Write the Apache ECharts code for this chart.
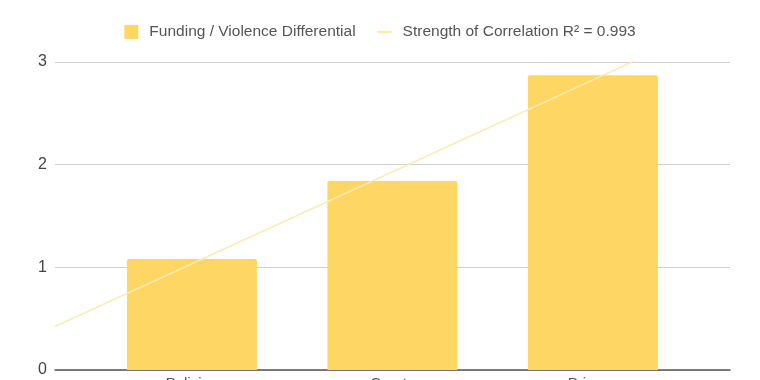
<!DOCTYPE html>
<html>
<head>
<meta charset="utf-8">
<script src="https://cdn.jsdelivr.net/npm/echarts@6/dist/echarts.min.js"></script>
<style>html,body{margin:0;padding:0;background:#fff}#c{width:760px;height:380px}</style>
</head>
<body>
<div id="c"></div>
<script>
const categories = ['Policing', 'Courts', 'Prisons'];
const barValues = [1.08, 1.84, 2.87];
const yTicks = [0, 1, 2, 3];
const barName = 'Funding / Violence Differential';
const trendName = 'Strength of Correlation R\u00b2 = 0.993';

// least-squares trendline through the bar values
const n = barValues.length;
const xs = barValues.map((_, i) => i);
const mx = xs.reduce((a, b) => a + b, 0) / n;
const my = barValues.reduce((a, b) => a + b, 0) / n;
let sxy = 0, sxx = 0;
xs.forEach((x, i) => { sxy += (x - mx) * (barValues[i] - my); sxx += (x - mx) * (x - mx); });
const slope = sxy / sxx, intercept = my - slope * mx;

const xMin = -0.683, xMax = 2.684;
const trendData = [[xMin, intercept + slope * xMin], [xMax, intercept + slope * xMax]];

const chart = echarts.init(document.getElementById('c'), null, {renderer: 'canvas'});
chart.setOption({
  animation: false,
  textStyle: {fontFamily: '"Liberation Sans", Arial, sans-serif'},
  legend: {
    top: 19, left: 'center', itemWidth: 14, itemHeight: 14, itemGap: 22,
    textStyle: {color: '#555', fontSize: 15.5, padding: [0, 0, 0, 6], fontFamily: '"Liberation Sans", Arial, sans-serif'},
    data: [
      {name: barName, icon: 'rect'},
      {name: trendName, icon: 'path://M0,0 H16 V3 H0 Z'}
    ]
  },
  grid: {left: 55, right: 30, top: 62, bottom: 10, containLabel: false, outerBoundsMode: 'none'},
  xAxis: {
    type: 'value', min: xMin, max: xMax,
    splitLine: {show: false},
    axisTick: {show: false},
    axisLine: {show: true, lineStyle: {color: '#555', width: 1.5}},
    axisLabel: {customValues: xs, formatter: v => categories[Math.round(v)], color: '#555', fontSize: 15, margin: 6}
  },
  yAxis: {
    type: 'value', min: 0, max: 3, interval: 1,
    axisLine: {show: false}, axisTick: {show: false},
    axisLabel: {color: '#444', fontSize: 16, margin: 8, customValues: yTicks},
    splitLine: {lineStyle: {color: '#d0d0d0', width: 1}}
  },
  series: [
    {
      name: barName, type: 'bar', barWidth: 130,
      itemStyle: {color: '#fdd663', borderRadius: [2, 2, 0, 0]},
      data: barValues.map((v, i) => [i, v]), z: 2
    },
    {
      name: trendName, type: 'line', showSymbol: false, symbol: 'none', clip: true,
      itemStyle: {color: '#fcebb0'},
      lineStyle: {color: '#fcebb0', width: 1.5},
      data: trendData, z: 3
    }
  ]
});
</script>
</body>
</html>
